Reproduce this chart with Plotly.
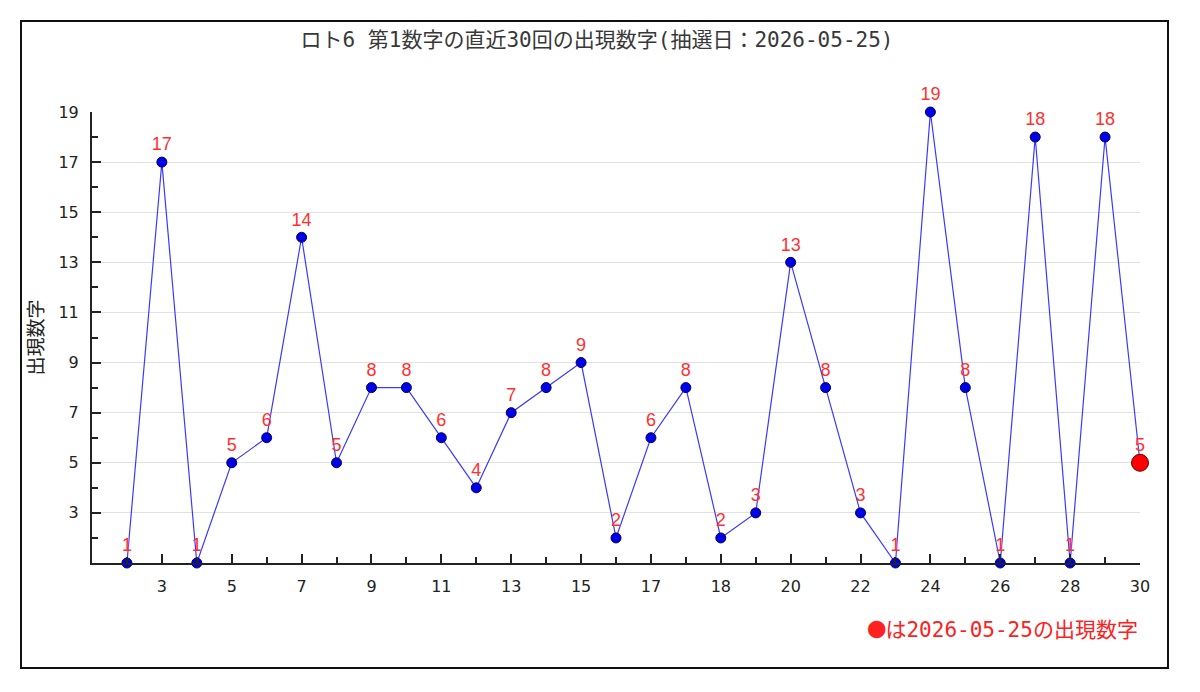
import plotly.graph_objects as go

# draw index (1..30) and first number drawn each time
draw_index = list(range(1, 31))
first_numbers = [1, 17, 1, 5, 6, 14, 5, 8, 8, 6,
                 4, 7, 8, 9, 2, 6, 8, 2, 3, 13,
                 8, 3, 1, 19, 8, 1, 18, 1, 18, 5]

# x tick labels as printed on the chart (at every second draw)
x_tick_pos = [2, 4, 6, 8, 10, 12, 14, 16, 18, 20, 22, 24, 26, 28, 30]
x_tick_text = ["3", "5", "7", "9", "11", "13", "15", "17",
               "18", "20", "22", "24", "26", "28", "30"]
y_tick_pos = [3, 5, 7, 9, 11, 13, 15, 17, 19]

title_text = "ロト6 第1数字の直近30回の出現数字(抽選日：2026-05-25)"
y_title = "出現数字"
note_text = "<span style='font-size:29px'>●</span>は2026-05-25の出現数字"

JP = "Noto Sans CJK JP"
MONO_JP = "DejaVu Sans Mono, " + JP

# the page body has an 8px margin, so the figure is 16px smaller than the window
OFF = 8
W, H = 1200 - 2 * OFF, 692 - 2 * OFF
L, T = 92 - OFF, 112 - OFF           # plot area left/top in figure pixels
R, B = W - (1140 - OFF), H - (563 - OFF)
pw, ph = W - L - R, H - T - B


def px_x(x):  # window pixel -> paper x
    return (x - OFF - L) / pw


def px_y(y):  # window pixel -> paper y
    return 1 - (y - OFF - T) / ph


fig = go.Figure()

# main line with blue markers and red value labels
fig.add_trace(go.Scatter(
    x=draw_index, y=first_numbers,
    mode="lines+markers+text",
    line=dict(color="#3a3aff", width=1.2),
    marker=dict(size=10, color="#0000e6", line=dict(color="#000066", width=1)),
    text=[str(v) for v in first_numbers],
    textposition="top center",
    textfont=dict(color="#ff3030", size=18, family="Liberation Sans Narrow, Liberation Sans"),
    cliponaxis=False,
    hoverinfo="skip",
))

# latest draw highlighted in red
fig.add_trace(go.Scatter(
    x=draw_index[-1:], y=first_numbers[-1:],
    mode="markers",
    marker=dict(size=17, color="#ff0000", line=dict(color="#660000", width=1)),
    cliponaxis=False,
    hoverinfo="skip",
))

fig.update_layout(
    width=W, height=H,
    margin=dict(l=L, r=R, t=T, b=B),
    paper_bgcolor="white", plot_bgcolor="white",
    showlegend=False,
    font=dict(family="DejaVu Sans, " + JP, size=16, color="#222"),
    title=dict(text=title_text, x=(597 - OFF) / W, xanchor="center",
               y=1 - (40 - OFF) / H, yanchor="middle", yref="container",
               font=dict(family=MONO_JP, size=21, color="#383838")),
)

fig.update_xaxes(
    range=[0, 30], tickmode="array", tickvals=x_tick_pos, ticktext=x_tick_text,
    showgrid=False, zeroline=False,
    showline=True, linecolor="#222", linewidth=2,
    ticks="inside", ticklen=9, tickwidth=1.5, tickcolor="#222",
    minor=dict(tickmode="linear", tick0=0, dtick=1, ticks="inside",
               ticklen=6, tickwidth=1.5, tickcolor="#222"),
    ticklabelstandoff=8,
)
fig.update_yaxes(
    range=[1, 19], tickmode="array", tickvals=y_tick_pos,
    showgrid=True, gridcolor="#e2e2e2", gridwidth=1, zeroline=False,
    showline=True, linecolor="#222", linewidth=2,
    ticks="inside", ticklen=9, tickwidth=1.5, tickcolor="#222",
    minor=dict(tickmode="linear", tick0=0, dtick=1, ticks="inside",
               ticklen=6, tickwidth=1.5, tickcolor="#222"),
    ticklabelstandoff=8,
    title=dict(text=y_title, font=dict(family=JP, size=19, color="#222"), standoff=10),
)

# note under the chart
fig.add_annotation(
    text=note_text, xref="paper", yref="paper",
    x=1, xanchor="right", y=px_y(627), yanchor="middle",
    showarrow=False, font=dict(family=MONO_JP, size=21, color="#ff2020"),
)

# outer frame
fig.add_shape(
    type="rect", xref="paper", yref="paper",
    x0=px_x(21), x1=px_x(1168), y0=px_y(668), y1=px_y(21),
    line=dict(color="#111", width=2),
)

fig.write_html("out.html")
